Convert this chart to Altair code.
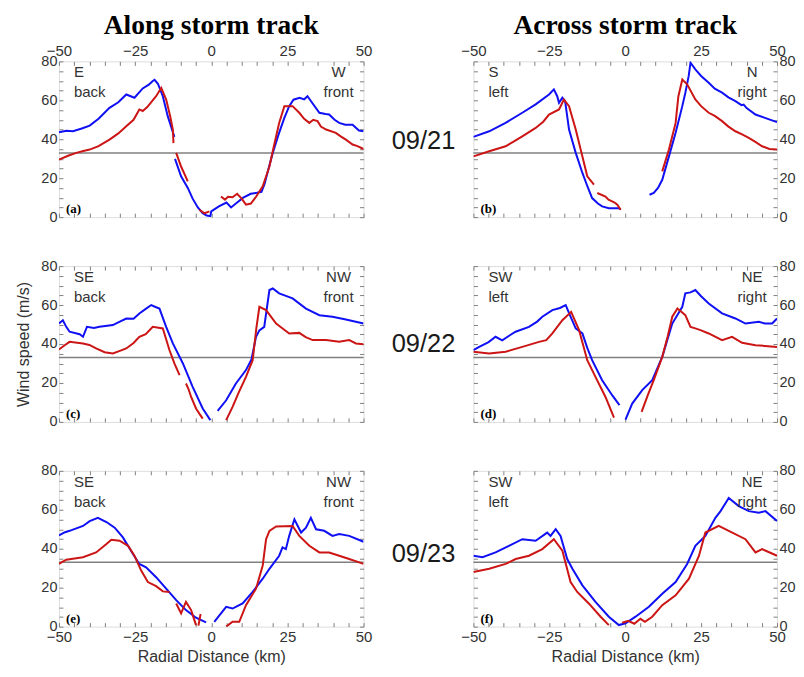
import altair as alt
import pandas as pd

BLUE = "#1010F5"
RED = "#CC1515"
GRAY = "#808080"
TXT = "#333333"
SANS = "Liberation Sans"
SERIF = "Liberation Serif"

# ---- data: lists of segments of (radial distance km, wind speed m/s) ----
A_BLUE = [
    [(-50, 43.6), (-47.5, 44.3), (-45.4, 44.1), (-42.5, 45.5), (-39.9, 47.0), (-37, 50.5), (-33.4, 56.1),
     (-30.5, 59), (-27.9, 63.0), (-25.2, 61.3), (-22.5, 66.1), (-20.5, 68), (-19.2, 69.9), (-18.6, 70.5),
     (-17.5, 68.5), (-15.9, 62.1), (-14.3, 52), (-12.1, 41.2)],
    [(-11.9, 29.9), (-9.9, 21), (-7.7, 15), (-6.1, 9.5), (-4.4, 5), (-2.8, 2), (-1.5, 0.8), (-0.3, 0.5),
     (0, 3.0), (2.5, 5.5), (5, 7.5), (6.5, 5), (8.5, 7.5), (10.5, 10), (13, 12), (15, 12.5), (16.5, 13),
     (17.5, 17), (19, 26), (20.2, 33), (22, 42), (24, 51), (25.6, 57), (27, 60.3), (29, 61.3), (30.5, 60.5),
     (31.6, 62.1), (33, 59), (35.5, 53.6), (37.5, 53), (38.7, 52.7), (40.5, 50), (42, 48.4), (44, 47.5),
     (46.4, 47.5), (48.5, 44.5), (50, 44.1)],
]
A_RED = [
    [(-50, 29.5), (-47, 31.5), (-44.3, 33), (-42, 34), (-39.9, 34.7), (-37, 36.5), (-33.4, 39.8), (-30.5, 43),
     (-27.9, 46.7), (-25.5, 50), (-23.6, 55.3), (-22.5, 54.5), (-21, 56.5), (-19.5, 59.5), (-18.1, 62.1),
     (-16.4, 66.4), (-14.8, 60.4), (-13.5, 52), (-12.6, 45), (-12.4, 38)],
    [(-11.5, 33), (-9.9, 26), (-7.7, 18.4)],
    [(-3.9, 3.8), (-2.2, 2), (-0.6, 3)],
    [(3.2, 10.6), (4.5, 9), (5.5, 10.5), (7, 10.2), (8.5, 12), (10, 9.5), (11.4, 6.4), (13, 7), (14.5, 10),
     (16.9, 15.8), (19.1, 26), (20.5, 36), (22.3, 48.4), (24, 57), (26.7, 57), (28.9, 53.6), (30.5, 50.5),
     (32.2, 48.4), (33.5, 50), (34.9, 49.3), (36, 46.5), (37.7, 45), (40.9, 43.3), (42.5, 41.5), (44.2, 39.8),
     (46.4, 37.3), (48, 36.5), (50, 35)],
]
B_BLUE = [
    [(-50, 41.2), (-44.8, 44.1), (-39.4, 48.4), (-33.9, 53.6), (-29.5, 57.9), (-25.1, 63), (-23.5, 65.6),
     (-22.4, 62.1), (-21.8, 58.7), (-20.7, 61.3), (-19.8, 59.6), (-18.5, 45), (-16.3, 33), (-14.1, 22.7),
     (-12.5, 16), (-10.9, 9.8), (-9, 7), (-7.6, 5.5), (-5.4, 4.6), (-2.1, 4.6), (-1.5, 4)],
    [(8.0, 11.5), (9.4, 12.4), (10.8, 15), (12.2, 19.2), (14.4, 31.2), (16.6, 43.3), (18.8, 57), (19.8, 63.9),
     (20.9, 72.4), (21.5, 79.3), (23.1, 75.9), (25, 72.5), (27.5, 69), (29.5, 66), (31.9, 63.9), (34, 61.5),
     (36.3, 59.6), (38.3, 57.5), (39, 57.8), (40, 56), (42.9, 52.7), (46, 51), (50, 48.8)],
]
B_RED = [
    [(-50, 31.2), (-44.8, 33.8), (-39.4, 36.4), (-36.5, 39), (-33.9, 41.5), (-29.5, 45.8), (-27, 49),
     (-25.1, 52.7), (-21.8, 55.3), (-20.2, 60.4), (-18.5, 57), (-16.3, 45), (-14.1, 31.2), (-12.5, 21),
     (-10.3, 16.7)],
    [(-9.2, 12.4), (-6.5, 10.6), (-5.5, 9), (-4.3, 8.1), (-3.5, 7.5), (-2.6, 6.4), (-1.5, 3.8)],
    [(12.2, 23.5), (14.4, 34.7), (16.6, 48.4), (17.5, 62), (18.8, 70.7), (20.4, 68.2), (23.1, 60.4), (25, 57),
     (27.5, 53.6), (29.5, 52), (31.9, 49.3), (34, 46.5), (36.3, 44.1), (38.5, 42.5), (40.7, 40.7), (43, 38.5),
     (45.1, 36.4), (47.5, 35), (50, 34.7)],
]
C_BLUE = [
    [(-50, 50.5), (-48.7, 52.2), (-47.6, 48.8), (-46.5, 46.3), (-43.2, 45), (-42.1, 43.7), (-40.8, 48.8),
     (-38.5, 48.2), (-36.7, 48.8), (-32.3, 49.7), (-30, 51.5), (-27.9, 53.1), (-25.5, 53), (-23.6, 55.7),
     (-21.5, 58), (-19.7, 60), (-18.3, 59), (-17, 58.2), (-14.8, 48.8), (-12.6, 40.3), (-9.3, 30), (-6.1, 18),
     (-2.8, 6.9), (-0.3, 0.9)],
    [(2.1, 5.7), (4.9, 11.1), (8.1, 19.7), (11.4, 26.6), (13.2, 32), (14.7, 43.7), (15.8, 47), (17.4, 48.8),
     (19.1, 67.7), (20.2, 68.5), (22.3, 66), (26.7, 63.4), (31.1, 58.2), (35.5, 54.8), (39.8, 54), (44.2, 52.6),
     (50, 50.5)],
]
C_RED = [
    [(-50, 37.2), (-48, 39.5), (-46.5, 41.1), (-42.1, 40.3), (-40, 39.5), (-37.8, 37.7), (-35, 35.8),
     (-32.3, 35.1), (-30, 36.5), (-27.9, 37.7), (-25.5, 40.5), (-23.6, 43.7), (-21.5, 45), (-19.2, 48.8),
     (-15.9, 48), (-13.7, 36.8), (-12.1, 30), (-10.4, 24)],
    [(-8.3, 19.7), (-7.5, 17), (-6.6, 12.8), (-5, 6.9), (-3.8, 4), (-2.8, 1.7)],
    [(4.9, 0.9), (7, 7.7), (9, 15), (11.4, 23.1), (13.6, 31.7), (14.8, 48), (15.8, 59.1), (18, 57.4),
     (21.3, 50.5), (23, 48.5), (25.6, 45.4), (28.9, 45.7), (31, 43.5), (33.3, 42), (37.7, 42), (42, 41.1),
     (45.3, 42), (47.5, 40.3), (50, 39.9)],
]
D_BLUE = [
    [(-50, 36.8), (-48.1, 38.5), (-45, 41), (-42.7, 43.7), (-40.5, 41.9), (-38, 44.5), (-36.1, 46.3),
     (-31.7, 48.8), (-29, 51.5), (-27.3, 54), (-24, 57.4), (-21.5, 58.5), (-19.6, 60), (-18, 54), (-16.3, 48),
     (-14.1, 45.4), (-12.5, 38), (-10.9, 31.7), (-7.6, 21.4), (-4.3, 13.7), (-1.9, 8.6)],
    [(0.1, 1.2), (2.3, 9.4), (5.6, 16.3), (8.9, 21.4), (12.2, 33.4), (15.5, 50.5), (18.8, 59.1), (19.8, 66),
     (21.5, 66.5), (23.1, 67.7), (25, 64.5), (27.5, 60.8), (31.9, 55.7), (36.3, 53.1), (39.6, 50.5), (44, 51.4),
     (46, 50.5), (48.4, 50.5), (50, 53.1)],
]
D_RED = [
    [(-50, 36), (-44.8, 35.1), (-39.4, 36), (-33.9, 38.5), (-28.4, 41.1), (-26, 42), (-24, 45.4), (-20.7, 52.2),
     (-17.8, 56.5), (-15.2, 47.1), (-12.5, 31.7), (-9.8, 23.1), (-6.5, 12.8), (-3.7, 2.2)],
    [(5.4, 5.1), (7.5, 14), (9.4, 21.4), (12.2, 33.4), (14, 44), (15.5, 54), (17.2, 58.2), (18.5, 56.5),
     (19.8, 54.8), (21.5, 48.8), (23.1, 48), (25, 47), (27.5, 45.4), (31.9, 42), (35.2, 43.7), (38.5, 40.6),
     (42.9, 39.4), (46, 39), (50, 38.5)],
]
E_BLUE = [
    [(-50, 46.9), (-48, 48.5), (-46.5, 49.2), (-42.1, 51.7), (-39.9, 54.2), (-37.2, 55.9), (-34.4, 53.7),
     (-31.7, 50.8), (-29, 45.8), (-25.7, 37.3), (-23.6, 32.2), (-21.4, 30.5), (-18.1, 25.4), (-14.8, 19.5),
     (-11.5, 13.6), (-8.3, 8.5), (-5, 4.6), (-1.7, 2.2)],
    [(1, 2.5), (3.2, 6.8), (4.9, 10.2), (7, 9.3), (10.3, 11.9), (13.6, 17.8), (16.9, 24.6), (19.1, 29.7),
     (22.3, 36.4), (23.4, 40.7), (24.5, 39.8), (25.6, 46.6), (27.3, 55.1), (28.4, 51.7), (29.5, 48.3),
     (31.1, 50.8), (32.7, 55.9), (34.4, 50), (37.1, 49.2), (39.8, 46.6), (42, 47.5), (45.3, 46.6), (50, 43.6)],
]
E_RED = [
    [(-50, 32.2), (-47.6, 34.4), (-42.1, 35.6), (-37.8, 38.1), (-34.4, 42.4), (-32.8, 44.6), (-30.1, 44.1),
     (-27.3, 41.5), (-25.2, 36.4), (-23, 28.8), (-20.8, 22.9), (-18.1, 20.8), (-15.9, 18.1), (-13.7, 17.8)],
    [(-11.5, 11.9), (-9.9, 6.8), (-8.3, 12.7), (-6.6, 8.5), (-5, 0.8)],
    [(-4.2, 0.5), (-3.5, 6.5)],
    [(4.9, 0), (7, 2.5), (9.2, 2.5), (11.4, 11), (14.7, 19.5), (16.9, 31.4), (18, 44.9), (19.1, 49.2),
     (21.3, 51.4), (26.7, 51.7), (28.9, 46.6), (32.2, 41.5), (35.5, 38.1), (38.7, 38.1), (42, 36.4),
     (45.3, 34.7), (50, 32.2)],
]
F_BLUE = [
    [(-50, 36.4), (-47, 35.6), (-42.7, 38.1), (-38.3, 41.5), (-33.9, 44.9), (-29.5, 44.1), (-25.7, 48.3),
     (-24.6, 46.6), (-22.9, 50), (-21.3, 46.6), (-19.1, 34.7), (-17.4, 29.7), (-14.1, 21.2), (-9.8, 12.7),
     (-5.4, 5.1), (-2.1, 0.8), (0.1, 1.7), (3.4, 5.1), (7.8, 10.2), (12.2, 16.9), (16.6, 22.9), (20.4, 32.2),
     (23.1, 41.5), (26.4, 46.6), (29.7, 55.9), (31.4, 59.3), (34.1, 66.1), (37.4, 61.9), (40.7, 59.3),
     (44, 58.5), (46.2, 59.3), (50, 54.2)],
]
F_RED = [
    [(-50, 28), (-44.8, 29.7), (-39.4, 32.2), (-36.1, 34.7), (-31.7, 36.4), (-27.3, 39.8), (-23.5, 44.9),
     (-20.7, 39), (-18, 22.9), (-15.8, 17.8), (-12, 11.9), (-8.1, 5.1), (-5.4, 0.8)],
    [(-1, 2), (1, 3), (3, 1.5), (5, 4), (6.5, 2.5), (8.9, 5.1), (12.2, 11), (16.6, 16.1), (21, 24.6),
     (24.3, 36.4), (26.4, 48.3), (30.8, 51.7), (34.1, 49.2), (39.6, 44.9), (42.9, 38.1), (45.1, 39.8),
     (50, 36.4)],
]

THRESHOLD = 33
COL_TITLES = ["Along storm track", "Across storm track"]
DATES = ["09/21", "09/22", "09/23"]
PANEL_LETTERS = [["(a)", "(b)"], ["(c)", "(d)"], ["(e)", "(f)"]]
DIR_LEFT = [[["E", "back"], ["S", "left"]], [["SE", "back"], ["SW", "left"]], [["SE", "back"], ["SW", "left"]]]
DIR_RIGHT = [[["W", "front"], ["N", "right"]], [["NW", "front"], ["NE", "right"]], [["NW", "front"], ["NE", "right"]]]
SERIES = [[(A_BLUE, A_RED), (B_BLUE, B_RED)], [(C_BLUE, C_RED), (D_BLUE, D_RED)], [(E_BLUE, E_RED), (F_BLUE, F_RED)]]

X_TICKS = list(range(-50, 51, 5))
Y_TICKS = list(range(0, 81, 5))
W = [305, 304]
H = 156
DATE_Y = [88, 86, 91]


def make_df(blue, red):
    rows = []
    for name, segs in (("blue", blue), ("red", red)):
        for i, seg in enumerate(segs):
            for x, y in seg:
                rows.append({"x": x, "y": y, "series": name, "seg": f"{name}{i}"})
    return pd.DataFrame(rows)


def xaxis(orient, labels, title=None):
    kw = dict(orient=orient, values=X_TICKS, labels=labels, tickSize=4, offset=-4, domain=False, grid=False,
              tickColor=GRAY, tickWidth=1, labelFont=SANS, labelFontSize=15, labelColor=TXT, labelPadding=3,
              labelFlush=False, labelOverlap=False,
              labelExpr="datum.value % 25 == 0 ? datum.label : ''", title=title)
    if title:
        kw.update(titleFont=SANS, titleFontSize=16, titleFontWeight="normal", titleColor=TXT, titlePadding=4)
    return alt.Axis(**kw)


def yaxis(orient, labels, title=None):
    kw = dict(orient=orient, values=Y_TICKS, labels=labels, tickSize=4, offset=-4, domain=False, grid=False,
              tickColor=GRAY, tickWidth=1, labelFont=SANS, labelFontSize=14.5, labelColor=TXT, labelPadding=2,
              labelFlush=False, labelOverlap=False,
              labelExpr="datum.value % 20 == 0 ? datum.label : ''", title=title)
    if title:
        kw.update(titleFont=SANS, titleFontSize=16, titleFontWeight="normal", titleColor=TXT, titlePadding=9)
    return alt.Axis(**kw)


XS = alt.Scale(domain=[-50, 50], nice=False)
YS = alt.Scale(domain=[0, 80], nice=False)
one = pd.DataFrame({"k": [0]})


def panel(r, c):
    blue, red = SERIES[r][c]
    df = make_df(blue, red)
    w = W[c]
    if r == 0:
        xa_main, xa_other = xaxis("top", True), xaxis("bottom", False)
    elif r == 2:
        xa_main, xa_other = xaxis("bottom", True, "Radial Distance (km)"), xaxis("top", False)
    else:
        xa_main, xa_other = xaxis("bottom", False), xaxis("top", False)
    ytitle = "Wind speed (m/s)" if (r == 1 and c == 0) else None
    if c == 0:
        ya_main, ya_other = yaxis("left", True, ytitle), yaxis("right", False)
    else:
        ya_main, ya_other = yaxis("right", True), yaxis("left", False)

    lines = alt.Chart(df).mark_line(strokeWidth=2, clip=True).encode(
        x=alt.X("x:Q", scale=XS, axis=xa_main),
        y=alt.Y("y:Q", scale=YS, axis=ya_main),
        color=alt.Color("series:N", scale=alt.Scale(domain=["blue", "red"], range=[BLUE, RED]), legend=None),
        detail="seg:N",
        order="x:Q",
    )
    thr = pd.DataFrame({"x0": [-50], "x1": [50], "y": [THRESHOLD]})
    rule = alt.Chart(thr).mark_rule(color=GRAY, strokeWidth=1.5).encode(
        x=alt.X("x0:Q", scale=XS, axis=xa_other),
        x2="x1:Q",
        y=alt.Y("y:Q", scale=YS, axis=ya_other),
    )
    tl = alt.Chart(one).mark_text(align="left", baseline="alphabetic", font=SANS, fontSize=15,
                                  color=TXT, lineHeight=20).encode(
        x=alt.value(15), y=alt.value(16), text=alt.value(DIR_LEFT[r][c]))
    tr = alt.Chart(one).mark_text(align="center", baseline="alphabetic", font=SANS, fontSize=15,
                                  color=TXT, lineHeight=20).encode(
        x=alt.value(w - 25), y=alt.value(16), text=alt.value(DIR_RIGHT[r][c]))
    lab = alt.Chart(one).mark_text(align="left", baseline="alphabetic", font=SERIF, fontSize=13,
                                   fontWeight="bold", color="black").encode(
        x=alt.value(7), y=alt.value(H - 4), text=alt.value(PANEL_LETTERS[r][c]))
    layers = [rule, lines, tl, tr, lab]
    if c == 1:
        date = alt.Chart(one).mark_text(align="center", baseline="alphabetic", font=SANS, fontSize=25.5,
                                        color="#1a1a1a").encode(
            x=alt.value(-50), y=alt.value(DATE_Y[r]), text=alt.value(DATES[r]))
        layers.append(date)
    ch = alt.layer(*layers).resolve_axis(x="independent", y="independent").properties(width=w, height=H)
    if r == 0:
        ch = ch.properties(title=alt.Title(COL_TITLES[c], font=SERIF, fontSize=27.5, fontWeight="bold",
                                           color="black", offset=3.5, anchor="middle"))
    return ch


panels = [panel(r, c) for r in range(3) for c in range(2)]
chart = alt.concat(*panels, columns=2, spacing={"row": 49, "column": 110}, bounds="flush").properties(
    padding={"left": 7, "top": 3, "right": 0, "bottom": 0}
).configure_view(stroke=GRAY, strokeWidth=1).configure(background="white")

chart.save("out.html", embed_options={"renderer": "svg", "actions": False})
